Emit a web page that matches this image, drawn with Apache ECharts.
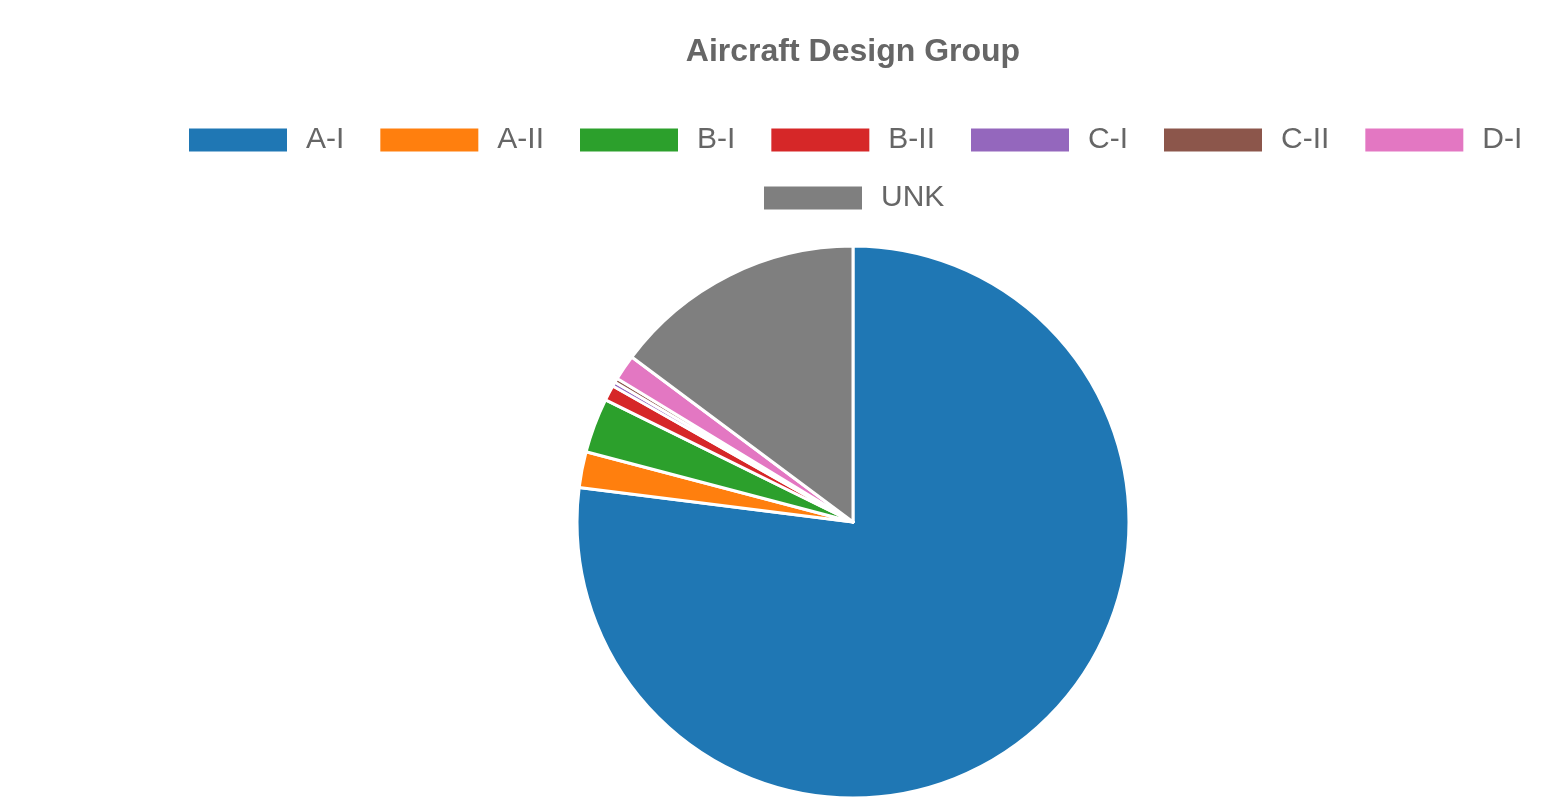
<!DOCTYPE html>
<html>
<head>
<meta charset="utf-8">
<title>Aircraft Design Group</title>
<script src="https://cdn.jsdelivr.net/npm/echarts@6/dist/echarts.min.js"></script>
<style>
  html, body { margin: 0; padding: 0; background: #fff; }
  #chart { width: 1543px; height: 811px; }
</style>
</head>
<body>
<div id="chart"></div>
<script>
// categories and shares (percent)
var groups = ['A-I', 'A-II', 'B-I', 'B-II', 'C-I', 'C-II', 'D-I', 'UNK'];
var shares = [77.0, 2.1, 3.2, 0.9, 0.25, 0.25, 1.5, 14.8];
var colors = ['#1f77b4', '#ff7f0e', '#2ca02c', '#d62728', '#9467bd', '#8c564b', '#e377c2', '#7f7f7f'];

var pieData = groups.map(function (g, i) {
  return { name: g, value: shares[i], itemStyle: { color: colors[i] } };
});

var legendBase = {
  orient: 'horizontal',
  padding: 0,
  itemWidth: 100,
  itemHeight: 25,
  itemGap: 34,
  icon: 'rect',
  selectedMode: false,
  textStyle: {
    fontFamily: 'Liberation Sans, Arial, sans-serif',
    fontSize: 30,
    color: '#666',
    padding: [0, 0, 0, 13]
  }
};

var chart = echarts.init(document.getElementById('chart'));
chart.setOption({
  backgroundColor: '#fff',
  animation: false,
  color: colors,
  title: {
    text: 'Aircraft Design Group',
    left: 848,
    textAlign: 'center',
    top: 31,
    textStyle: {
      fontFamily: 'Liberation Sans, Arial, sans-serif',
      fontSize: 32,
      fontWeight: 'bold',
      color: '#666'
    }
  },
  legend: [
    Object.assign({}, legendBase, { left: 187, top: 125, data: groups.slice(0, 7) }),
    Object.assign({}, legendBase, { left: 762, top: 183, data: groups.slice(7) })
  ],
  series: [{
    type: 'pie',
    center: [853, 522],
    radius: 276,
    startAngle: 90,
    clockwise: true,
    label: { show: false },
    labelLine: { show: false },
    emphasis: { disabled: true },
    itemStyle: { borderColor: '#fff', borderWidth: 3 },
    data: pieData
  }]
});
</script>
</body>
</html>
